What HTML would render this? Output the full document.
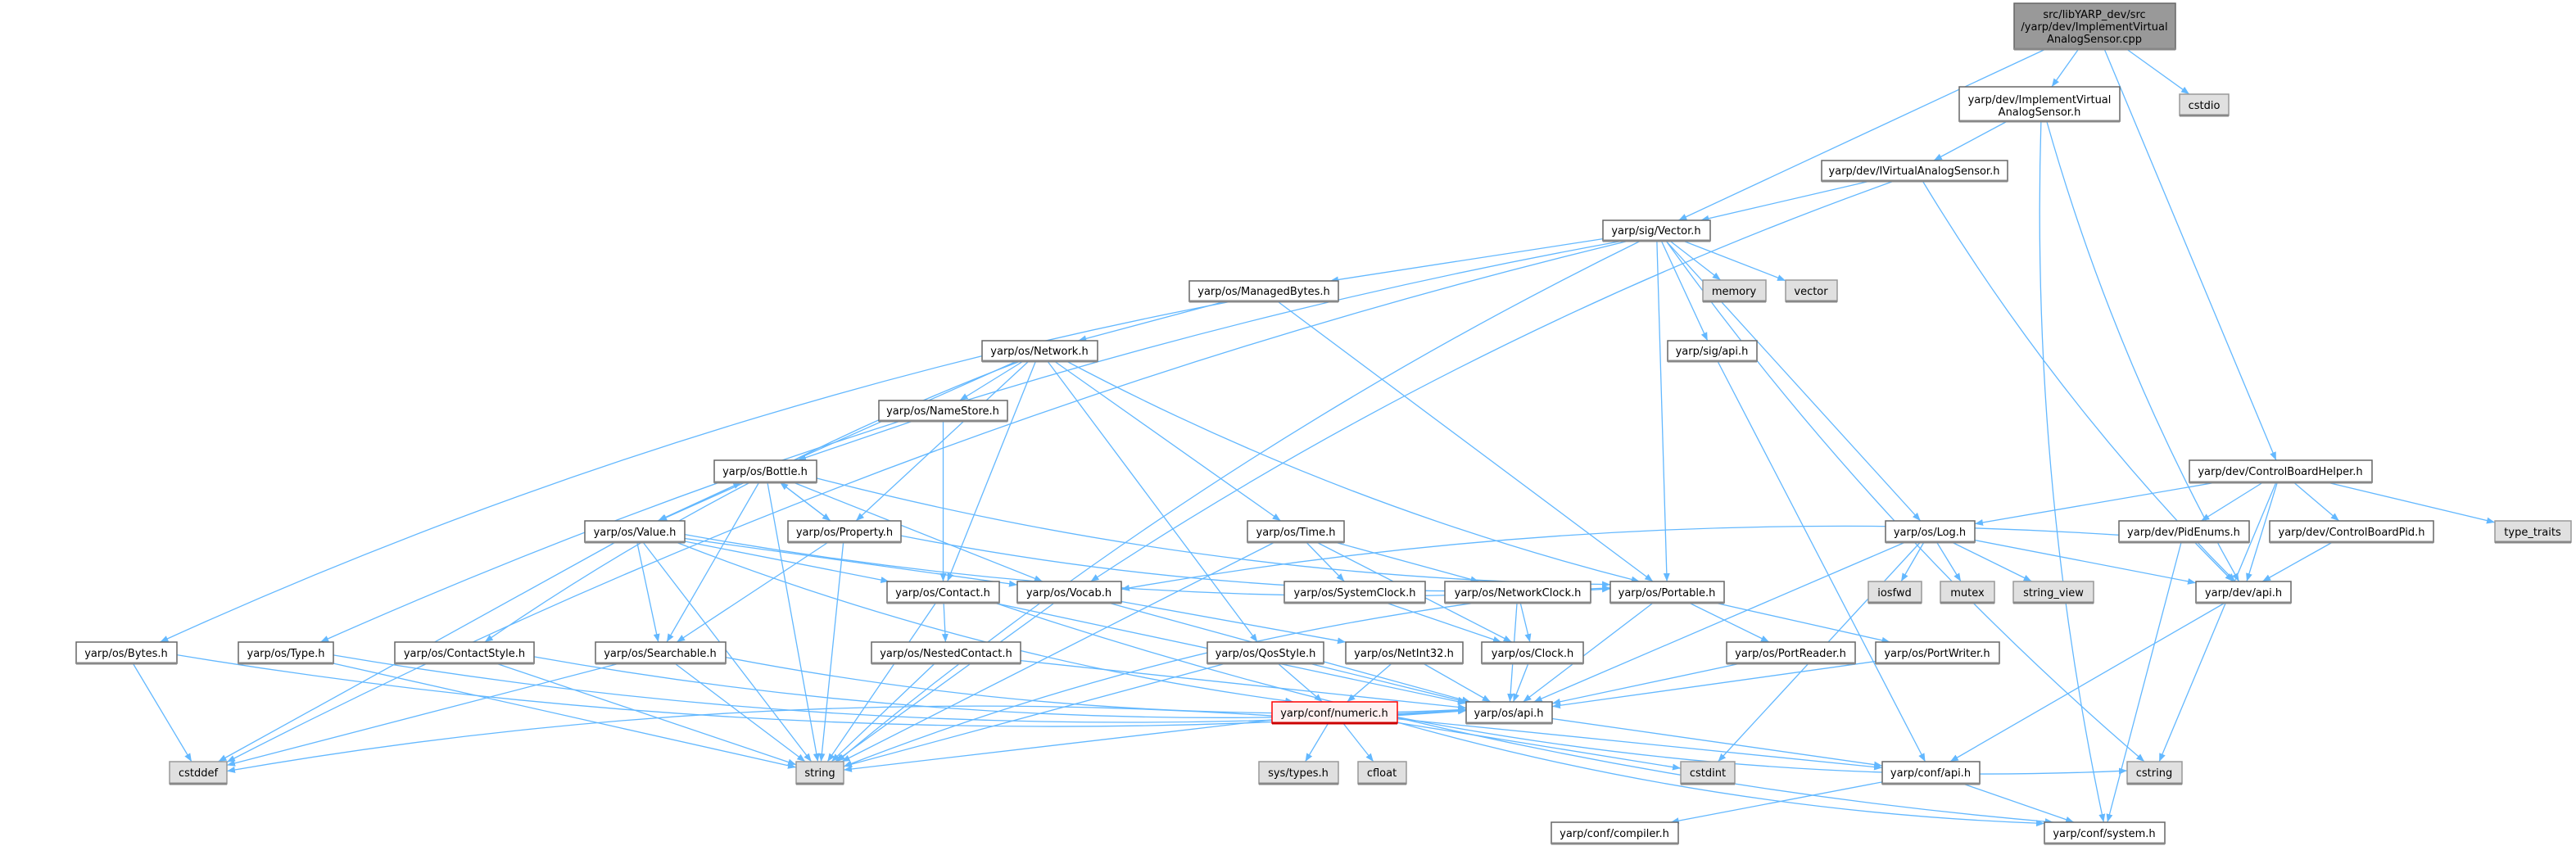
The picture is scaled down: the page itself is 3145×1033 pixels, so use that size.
<!DOCTYPE html>
<html><head><meta charset="utf-8"><style>
html,body{margin:0;padding:0;background:#fff;}
svg{display:block;}
text{font-family:"DejaVu Sans","Liberation Sans",sans-serif;font-size:13px;fill:#000;}
</style></head><body>
<svg id="s" width="3145" height="1033" viewBox="0 0 3145 1033" xmlns="http://www.w3.org/2000/svg">
<defs><marker id="a" viewBox="0 0 10 10" refX="10" refY="5" markerWidth="10" markerHeight="10" markerUnits="userSpaceOnUse" orient="auto"><path d="M0,1 L10,5 L0,9 z" fill="#63b8ff"/></marker></defs>
<g id="edges" fill="none" stroke="#63b8ff" stroke-width="1.3"></g>
<g id="nodes"></g>
<g id="labels">
<text x="2557" y="22" text-anchor="middle">src/libYARP_dev/src</text>
<text x="2557" y="37" text-anchor="middle">/yarp/dev/ImplementVirtual</text>
<text x="2557" y="52" text-anchor="middle">AnalogSensor.cpp</text>
<text x="2490" y="126" text-anchor="middle">yarp/dev/ImplementVirtual</text>
<text x="2490" y="141" text-anchor="middle">AnalogSensor.h</text>
<text x="2691" y="133" text-anchor="middle">cstdio</text>
<text x="2337" y="213" text-anchor="middle">yarp/dev/IVirtualAnalogSensor.h</text>
<text x="2022" y="286" text-anchor="middle">yarp/sig/Vector.h</text>
<text x="2117" y="360" text-anchor="middle">memory</text>
<text x="2211" y="360" text-anchor="middle">vector</text>
<text x="1543" y="360" text-anchor="middle">yarp/os/ManagedBytes.h</text>
<text x="2090" y="433" text-anchor="middle">yarp/sig/api.h</text>
<text x="1269" y="433" text-anchor="middle">yarp/os/Network.h</text>
<text x="1151" y="506" text-anchor="middle">yarp/os/NameStore.h</text>
<text x="934" y="580" text-anchor="middle">yarp/os/Bottle.h</text>
<text x="775" y="654" text-anchor="middle">yarp/os/Value.h</text>
<text x="1031" y="654" text-anchor="middle">yarp/os/Property.h</text>
<text x="1582" y="654" text-anchor="middle">yarp/os/Time.h</text>
<text x="2356" y="654" text-anchor="middle">yarp/os/Log.h</text>
<text x="2666" y="654" text-anchor="middle">yarp/dev/PidEnums.h</text>
<text x="2871" y="654" text-anchor="middle">yarp/dev/ControlBoardPid.h</text>
<text x="3092" y="654" text-anchor="middle">type_traits</text>
<text x="2784" y="580" text-anchor="middle">yarp/dev/ControlBoardHelper.h</text>
<text x="1151" y="728" text-anchor="middle">yarp/os/Contact.h</text>
<text x="1305" y="728" text-anchor="middle">yarp/os/Vocab.h</text>
<text x="1654" y="728" text-anchor="middle">yarp/os/SystemClock.h</text>
<text x="1853" y="728" text-anchor="middle">yarp/os/NetworkClock.h</text>
<text x="2035" y="728" text-anchor="middle">yarp/os/Portable.h</text>
<text x="2313" y="728" text-anchor="middle">iosfwd</text>
<text x="2402" y="728" text-anchor="middle">mutex</text>
<text x="2507" y="728" text-anchor="middle">string_view</text>
<text x="2739" y="728" text-anchor="middle">yarp/dev/api.h</text>
<text x="154" y="802" text-anchor="middle">yarp/os/Bytes.h</text>
<text x="349" y="802" text-anchor="middle">yarp/os/Type.h</text>
<text x="567" y="802" text-anchor="middle">yarp/os/ContactStyle.h</text>
<text x="806" y="802" text-anchor="middle">yarp/os/Searchable.h</text>
<text x="1155" y="802" text-anchor="middle">yarp/os/NestedContact.h</text>
<text x="1545" y="802" text-anchor="middle">yarp/os/QosStyle.h</text>
<text x="1714" y="802" text-anchor="middle">yarp/os/NetInt32.h</text>
<text x="1871" y="802" text-anchor="middle">yarp/os/Clock.h</text>
<text x="2186" y="802" text-anchor="middle">yarp/os/PortReader.h</text>
<text x="2365" y="802" text-anchor="middle">yarp/os/PortWriter.h</text>
<text x="1629" y="875" text-anchor="middle">yarp/conf/numeric.h</text>
<text x="1842" y="875" text-anchor="middle">yarp/os/api.h</text>
<text x="242" y="948" text-anchor="middle">cstddef</text>
<text x="1001" y="948" text-anchor="middle">string</text>
<text x="1585" y="948" text-anchor="middle">sys/types.h</text>
<text x="1687" y="948" text-anchor="middle">cfloat</text>
<text x="2085" y="948" text-anchor="middle">cstdint</text>
<text x="2357" y="948" text-anchor="middle">yarp/conf/api.h</text>
<text x="2630" y="948" text-anchor="middle">cstring</text>
<text x="1971" y="1022" text-anchor="middle">yarp/conf/compiler.h</text>
<text x="2569" y="1022" text-anchor="middle">yarp/conf/system.h</text>
</g>
</svg>
<script>
var N={
cpp:[2459,4,2656,60,'top'],ias:[2392,106,2588,148],cstdio:[2661,115,2721,141,'sys'],
ivas:[2224,196,2451,221],vec:[1957,269,2088,294],memory:[2079,342,2156,368,'sys'],vector:[2180,342,2243,368,'sys'],
mb:[1452,343,1634,368],sigapi:[2036,416,2145,441],net:[1199,416,1340,441],ns:[1073,489,1230,514],
bottle:[872,562,997,589],value:[714,636,836,662],prop:[962,636,1100,662],time:[1523,636,1641,662],
log:[2302,636,2411,662],pid:[2587,636,2746,662],cbpid:[2771,636,2971,662],tt:[3046,636,3139,662,'sys'],
cbh:[2673,562,2896,589],contact:[1083,710,1220,736],vocab:[1242,710,1369,736],sysclk:[1568,710,1740,736],
netclk:[1764,710,1942,736],portable:[1966,710,2105,736],iosfwd:[2281,710,2346,736,'sys'],mutex:[2369,710,2435,736,'sys'],
sv:[2458,710,2556,736,'sys'],devapi:[2681,710,2797,736],bytes:[93,784,216,810],type:[291,784,407,810],
cs:[482,784,652,810],search:[727,784,886,810],nested:[1064,784,1246,810],qos:[1474,784,1616,810],
ni32:[1643,784,1786,810],clock:[1809,784,1933,810],pr:[2108,784,2265,810],pw:[2290,784,2441,810],
num:[1553,857,1706,883,'red'],osapi:[1790,857,1895,883],cstddef:[207,930,277,957,'sys'],string:[972,930,1030,957,'sys'],
st:[1537,930,1634,957,'sys'],cfloat:[1658,930,1717,957,'sys'],cstdint:[2052,930,2118,957,'sys'],confapi:[2298,930,2417,957],
cstring:[2597,930,2664,957,'sys'],comp:[1894,1004,2049,1030],sys:[2496,1004,2643,1030]};
var E=[['cpp','vec'],['cpp','ias'],['cpp','cstdio'],['cpp','cbh'],['ias','ivas'],['ias','devapi'],['ias','sys'],
['ivas','vec'],['ivas','vocab'],['ivas','devapi'],
['vec','mb'],['vec','memory'],['vec','vector'],['vec','sigapi'],['vec','portable'],['vec','log'],['vec','cstddef'],['vec','string'],['vec','type'],['vec','cstring'],
['mb','net'],['mb','bytes'],['mb','portable'],['sigapi','confapi'],
['net','ns'],['net','value'],['net','prop'],['net','contact'],['net','cs'],['net','time'],['net','qos'],['net','portable'],
['ns','bottle'],['ns','contact'],
['bottle','value'],['bottle','prop'],['bottle','search'],['bottle','vocab'],['bottle','string'],['bottle','portable'],
['value','bottle'],['value','search'],['value','vocab'],['value','contact'],['value','cstddef'],['value','string'],['value','num'],['value','portable'],
['prop','bottle'],['prop','search'],['prop','string'],['prop','portable'],
['contact','nested'],['contact','string'],['contact','sys'],['contact','osapi'],
['vocab','string'],['vocab','ni32'],['vocab','osapi'],
['bytes','cstddef'],['bytes','osapi'],['type','string'],['type','osapi'],['cs','string'],['cs','osapi'],
['search','cstddef'],['search','string'],['search','osapi'],['nested','string'],['nested','osapi'],
['qos','string'],['qos','num'],['qos','osapi'],
['time','sysclk'],['time','netclk'],['time','string'],['time','clock'],['sysclk','clock'],
['netclk','clock'],['netclk','osapi'],['netclk','string'],
['portable','pr'],['portable','pw'],['portable','osapi'],['pr','osapi'],['pw','osapi'],
['ni32','num'],['ni32','osapi'],['clock','osapi'],['osapi','confapi'],
['num','string'],['num','cstddef'],['num','st'],['num','cfloat'],['num','cstdint'],['num','confapi'],['num','cstring'],['num','sys'],
['confapi','comp'],['confapi','sys'],
['log','iosfwd'],['log','mutex'],['log','sv'],['log','devapi'],['log','osapi'],['log','cstdint'],
['cbh','log'],['cbh','pid'],['cbh','cbpid'],['cbh','tt'],['cbh','cstring'],['cbh','devapi'],
['pid','devapi'],['pid','vocab'],['pid','sys'],['cbpid','devapi'],['devapi','confapi']];
var ns='http://www.w3.org/2000/svg',eg=document.getElementById('edges'),ng=document.getElementById('nodes');
function clip(b,cx,cy,dx,dy){var hw=(b[2]-b[0])/2,hh=(b[3]-b[1])/2,t=1e9;
if(dx)t=Math.min(t,hw/Math.abs(dx));if(dy)t=Math.min(t,hh/Math.abs(dy));return [cx+dx*t,cy+dy*t];}
E.forEach(function(e){var a=N[e[0]],b=N[e[1]];
var ax=(a[0]+a[2])/2,ay=(a[1]+a[3])/2,bx=(b[0]+b[2])/2,by=(b[1]+b[3])/2;
var p=clip(a,ax,ay,bx-ax,by-ay),q=clip(b,bx,by,ax-bx,ay-by);
var l=document.createElementNS(ns,'path');
var mx=(p[0]+q[0])/2,my=(p[1]+q[1])/2,dx=q[0]-p[0],dy=q[1]-p[1],len=Math.hypot(dx,dy);
var off=len>600?len*0.06:0;
l.setAttribute('d','M'+p[0]+','+p[1]+' Q'+(mx-dy/len*off)+','+(my+dx/len*off)+' '+q[0]+','+q[1]);
l.setAttribute('marker-end','url(#a)');eg.appendChild(l);});
for(var k in N){var b=N[k],r=document.createElementNS(ns,'rect');
r.setAttribute('x',b[0]);r.setAttribute('y',b[1]);r.setAttribute('width',b[2]-b[0]);r.setAttribute('height',b[3]-b[1]);
var f='#fff',s='#666';if(b[4]=='sys'){f='#e0e0e0';s='#999';}if(b[4]=='top'){f='#999';s='#666';}if(b[4]=='red'){f='#fff0f0';s='#f00';}
r.setAttribute('fill',f);r.setAttribute('stroke',s);r.setAttribute('stroke-width','1.5');ng.appendChild(r);
var t=document.createElementNS(ns,'line');t.setAttribute('x1',b[0]);t.setAttribute('x2',b[2]);t.setAttribute('y1',b[3]);t.setAttribute('y2',b[3]);
t.setAttribute('stroke',b[4]=='red'?'#c00':'#888');t.setAttribute('stroke-width','3');ng.appendChild(t);}
</script>
</body></html>
